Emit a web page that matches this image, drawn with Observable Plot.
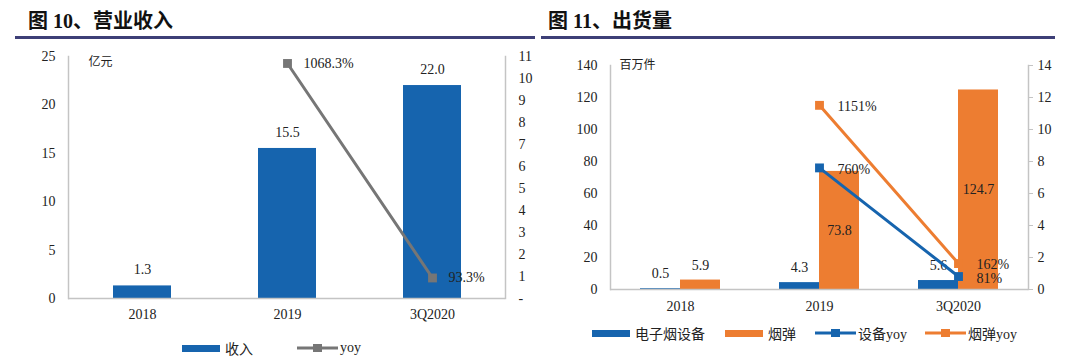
<!DOCTYPE html>
<html><head><meta charset="utf-8">
<script src="https://cdn.jsdelivr.net/npm/d3@7"></script>
<script src="https://cdn.jsdelivr.net/npm/@observablehq/plot@0.6"></script>
<style>
body{margin:0;background:#fff;width:1080px;height:364px;overflow:hidden;position:relative;font-family:"Liberation Serif","Noto Sans CJK SC",serif;color:#222;}
.title{position:absolute;top:9px;font-size:20px;line-height:24px;font-weight:bold;font-family:"Liberation Serif","Noto Sans CJK SC",serif;color:#111;white-space:nowrap;}
.rule{position:absolute;top:36px;height:3px;background:#3d3f77;}
.chart{position:absolute;top:40px;}
.lg{position:absolute;display:flex;align-items:center;font-size:14px;font-family:"Liberation Serif","Noto Sans CJK SC",serif;color:#222;white-space:nowrap;transform:translateY(-50%);}
.sw{display:inline-block;width:38px;height:7px;margin-right:5px;}
</style></head>
<body>
<div class="title" style="left:28px">图 10、营业收入</div>
<div class="title" style="left:548px">图 11、出货量</div>
<div class="rule" style="left:15px;width:520px"></div>
<div class="rule" style="left:541px;width:514px"></div>
<div id="left" class="chart" style="left:0px"></div>
<div id="right" class="chart" style="left:540px"></div>
<div id="legends"></div>
<script>
// ---- data ----
const years = ["2018", "2019", "3Q2020"];
const revenue = [1.3, 15.5, 22.0];              // 亿元
const revenueYoy = [null, 1068.3, 93.3];         // %
const revLeftTicks = [0, 5, 10, 15, 20, 25];
const revRightTicks = [0, 1, 2, 3, 4, 5, 6, 7, 8, 9, 10, 11];

const devices = [0.5, 4.3, 5.6];                 // 百万件 电子烟设备
const pods = [5.9, 73.8, 124.7];                 // 百万件 烟弹
const deviceYoy = [null, 760, 81];               // %
const podYoy = [null, 1151, 162];                // %
const shipLeftTicks = [0, 20, 40, 60, 80, 100, 120, 140];
const shipRightTicks = [0, 2, 4, 6, 8, 10, 12, 14];

const BLUE = "#1664ae", ORANGE = "#ed7d31", GRAY = "#767676", AXIS = "#c4c4c4";
const serif = "Liberation Serif, Noto Sans CJK SC, serif";
const cjk = "Noto Sans CJK SC, sans-serif";

// ---- left chart ----
const kL = 25 / 11;
const revData = years.map((c, i) => ({c, v: revenue[i], yoy: revenueYoy[i]}));
const revYoyData = revData.filter(d => d.yoy != null);
const yL = d => d.yoy / 100 * kL;

const left = Plot.plot({
  width: 540, height: 324,
  marginTop: 16, marginBottom: 66, marginLeft: 68, marginRight: 35,
  style: {fontFamily: serif, fontSize: "14px", color: "#222", background: "transparent"},
  x: {domain: years, paddingInner: 0.602, paddingOuter: 0.301, label: null},
  y: {domain: [0, 25], label: null},
  marks: [
    Plot.axisX({tickSize: 0, tickPadding: 11, fontSize: 14, label: null}),
    Plot.axisY(revLeftTicks, {tickSize: 0, tickPadding: 13, fontSize: 14, label: null}),
    Plot.axisY(revRightTicks.map(d => d * kL), {anchor: "right", tickSize: 0, tickPadding: 13, fontSize: 14, label: null,
      tickFormat: d => { const v = Math.round(d / kL); return v === 0 ? "-" : String(v); }}),
    Plot.barY(revData, {x: "c", y: "v", fill: BLUE}),
    Plot.ruleY([0], {stroke: AXIS, strokeWidth: 1.5}),
    Plot.frame({anchor: "left", stroke: AXIS, strokeWidth: 1.5}),
    Plot.frame({anchor: "right", stroke: AXIS, strokeWidth: 1.5}),
    Plot.text(revData, {x: "c", y: "v", text: d => d.v.toFixed(1), dy: -16, fontSize: 14}),
    Plot.line(revYoyData, {x: "c", y: yL, stroke: GRAY, strokeWidth: 3}),
    Plot.dot(revYoyData, {x: "c", y: yL, symbol: "square", r: 5, fill: GRAY}),
    Plot.text(revYoyData, {x: "c", y: yL, text: d => d.yoy + "%", dx: 16, textAnchor: "start", fontSize: 14}),
    Plot.text(["亿元"], {frameAnchor: "top-left", dx: 20, dy: 1, lineAnchor: "top", fontFamily: cjk, fontSize: 12})
  ]
});
document.getElementById("left").appendChild(left);

// ---- right chart ----
const kR = 140 / 14;
const devData = years.map((c, i) => ({c, v: devices[i], yoy: deviceYoy[i]}));
const podData = years.map((c, i) => ({c, v: pods[i], yoy: podYoy[i]}));
const devYoyData = devData.filter(d => d.yoy != null);
const podYoyData = podData.filter(d => d.yoy != null);
const yR = d => d.yoy / 100 * kR;
const inside = d => d.v > 20;

const right = Plot.plot({
  width: 540, height: 324,
  marginTop: 25, marginBottom: 75, marginLeft: 70, marginRight: 52,
  style: {fontFamily: serif, fontSize: "14px", color: "#222", background: "transparent"},
  x: {domain: years, paddingInner: 0.7129, paddingOuter: 0.3565, label: null},
  y: {domain: [0, 140], label: null},
  marks: [
    Plot.axisX({tickSize: 0, tickPadding: 12, fontSize: 14, label: null}),
    Plot.axisY(shipLeftTicks, {tickSize: 0, tickPadding: 13, fontSize: 14, label: null}),
    Plot.axisY(shipRightTicks.map(d => d * kR), {anchor: "right", tickSize: 4, tickPadding: 5, fontSize: 14, label: null, stroke: AXIS,
      tickFormat: d => String(Math.round(d / kR))}),
    Plot.barY(devData, {x: "c", y: "v", fill: BLUE, dx: -20}),
    Plot.barY(podData, {x: "c", y: "v", fill: ORANGE, dx: 20}),
    Plot.ruleY([0], {stroke: AXIS, strokeWidth: 1.5}),
    Plot.frame({anchor: "left", stroke: AXIS, strokeWidth: 1.5}),
    Plot.frame({anchor: "right", stroke: AXIS, strokeWidth: 1.5}),
    Plot.text(devData, {x: "c", y: "v", text: d => d.v.toFixed(1), dx: -20, dy: -15, fontSize: 14}),
    Plot.text(podData.filter(d => !inside(d)), {x: "c", y: "v", text: d => d.v.toFixed(1), dx: 20, dy: -15, fontSize: 14}),
    Plot.text(podData.filter(inside), {x: "c", y: d => d.v / 2, text: d => d.v.toFixed(1), dx: 20, fontSize: 14}),
    Plot.line(podYoyData, {x: "c", y: yR, stroke: ORANGE, strokeWidth: 3}),
    Plot.dot(podYoyData, {x: "c", y: yR, symbol: "square", r: 5, fill: ORANGE}),
    Plot.line(devYoyData, {x: "c", y: yR, stroke: BLUE, strokeWidth: 3}),
    Plot.dot(devYoyData, {x: "c", y: yR, symbol: "square", r: 5, fill: BLUE}),
    Plot.text(podYoyData, {x: "c", y: yR, text: d => d.yoy + "%", dx: 18, dy: 1, textAnchor: "start", fontSize: 14}),
    Plot.text(devYoyData, {x: "c", y: yR, text: d => d.yoy + "%", dx: 18, dy: 2, textAnchor: "start", fontSize: 14}),
    Plot.text(["百万件"], {frameAnchor: "top-left", dx: 9, dy: 0, lineAnchor: "middle", fontFamily: cjk, fontSize: 12})
  ]
});
document.getElementById("right").appendChild(right);

// ---- legends (HTML) ----
const legends = [
  {x: 182, y: 348, type: "bar", color: BLUE, label: "收入"},
  {x: 297, y: 348, type: "line", color: GRAY, label: "yoy"},
  {x: 592, y: 333, type: "bar", color: BLUE, label: "电子烟设备"},
  {x: 725, y: 333, type: "bar", color: ORANGE, label: "烟弹"},
  {x: 815, y: 333, type: "line", color: BLUE, label: "设备yoy"},
  {x: 925, y: 333, type: "line", color: ORANGE, label: "烟弹yoy"}
];
const lgRoot = document.getElementById("legends");
for (const l of legends) {
  const div = document.createElement("div");
  div.className = "lg";
  div.style.left = l.x + "px";
  div.style.top = l.y + "px";
  if (l.type === "bar") {
    div.innerHTML = `<span class="sw" style="background:${l.color}"></span><span>${l.label}</span>`;
  } else {
    div.innerHTML = `<svg width="41" height="10" style="margin-right:2px"><line x1="0" x2="41" y1="5" y2="5" stroke="${l.color}" stroke-width="3"/><rect x="16" y="1" width="9" height="8" fill="${l.color}"/></svg><span>${l.label}</span>`;
  }
  lgRoot.appendChild(div);
}
</script>
</body></html>
